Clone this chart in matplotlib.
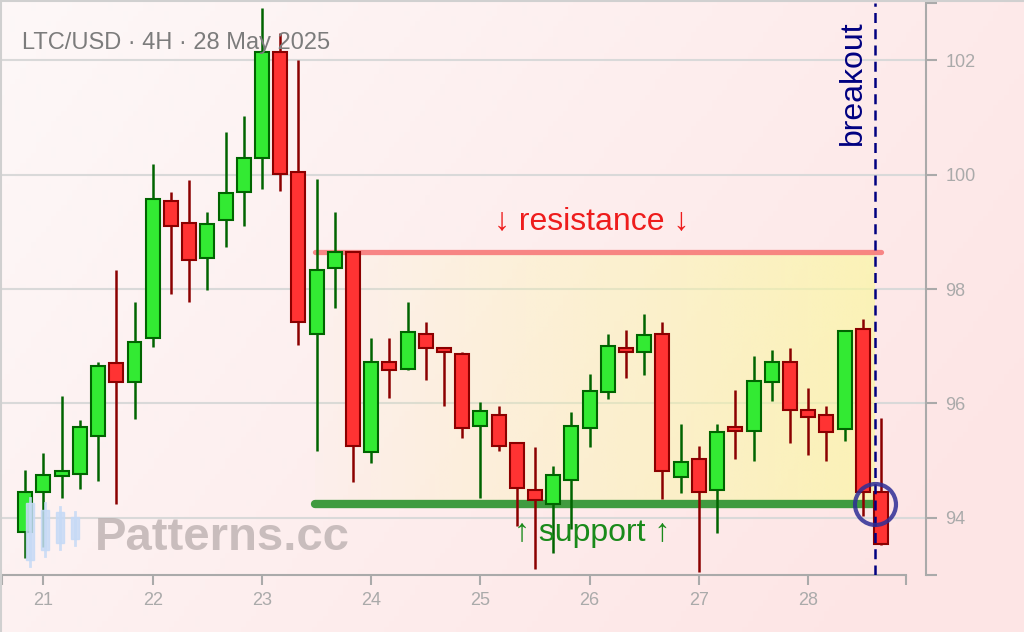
import numpy as np
import pandas as pd
import matplotlib
matplotlib.use("Agg")
import matplotlib.pyplot as plt

plt.rcParams['font.family'] = ['Liberation Sans', 'DejaVu Sans']

# 4H candles, LTC/USD, 20 May 20:00 -> 28 May 16:00
times = pd.date_range('2025-05-20 20:00', periods=48, freq='4h')
opens = [93.75, 94.45, 94.73, 94.76, 95.43, 96.70, 96.37, 97.14, 99.53, 99.15,
         98.54, 99.20, 99.70, 100.29, 102.15, 100.05, 97.21, 98.37, 98.65, 95.15,
         96.73, 96.61, 97.22, 96.97, 96.87, 95.60, 95.79, 95.30, 94.49, 94.25,
         94.66, 95.57, 96.20, 96.97, 96.90, 97.22, 94.72, 95.02, 94.48, 95.58,
         95.51, 96.38, 96.73, 95.89, 95.79, 95.55, 97.30, 94.45]
highs = [94.84, 95.14, 96.13, 95.71, 96.73, 98.33, 97.77, 100.18, 99.70, 99.91,
         99.35, 100.75, 101.03, 102.92, 102.47, 102.00, 99.93, 99.34, 98.66, 97.14,
         97.14, 97.77, 97.42, 96.97, 96.90, 96.03, 95.95, 95.30, 95.23, 94.91,
         95.85, 96.52, 97.22, 97.28, 97.56, 97.42, 95.64, 95.26, 95.64, 96.23,
         96.83, 96.94, 96.97, 96.27, 95.96, 97.28, 97.47, 95.74]
lows = [93.30, 93.49, 94.35, 94.50, 94.64, 94.25, 95.72, 96.98, 97.92, 97.78,
        97.99, 98.73, 99.11, 99.74, 99.71, 97.02, 95.16, 97.67, 94.63, 94.95,
        96.10, 96.58, 96.41, 95.95, 95.40, 94.35, 95.16, 93.86, 93.10, 93.38,
        93.80, 95.23, 96.07, 96.45, 96.49, 94.32, 94.43, 93.06, 93.73, 95.03,
        94.99, 96.04, 95.31, 95.10, 94.99, 95.34, 94.03, 93.52]
closes = [94.45, 94.74, 94.81, 95.58, 96.66, 96.37, 97.08, 99.57, 99.10, 98.51,
          99.14, 99.67, 100.29, 102.15, 100.01, 97.43, 98.34, 98.65, 95.26, 96.73,
          96.58, 97.25, 96.96, 96.89, 95.57, 95.86, 95.25, 94.52, 94.31, 94.74,
          95.61, 96.21, 97.01, 96.90, 97.19, 94.81, 94.98, 94.45, 95.50, 95.51,
          96.39, 96.73, 95.89, 95.76, 95.50, 97.26, 94.45, 93.54]

resistance = 98.65
support = 94.25
zone_start = 23.49
zone_end = 28.67
breakout_x = 28.61
day_ticks = [21, 22, 23, 24, 25, 26, 27, 28]

x = np.array([t.day + t.hour / 24 for t in times])
o = np.array(opens); h = np.array(highs); l = np.array(lows); c = np.array(closes)
up = c >= o

fig = plt.figure(figsize=(10.24, 6.32), dpi=100)

# background gradient
bg = fig.add_axes([0, 0, 1, 1], zorder=-5)
gx, gy = np.meshgrid(np.linspace(0, 1, 200), np.linspace(0, 1, 120))
t = np.clip(0.75 * gx + 0.35 * gy, 0, 1)
top = np.array([253, 248, 248]) / 255
bot = np.array([253, 229, 229]) / 255
img = top[None, None, :] * (1 - t[..., None]) + bot[None, None, :] * t[..., None]
bg.imshow(img, aspect='auto', extent=[0, 1, 1, 0])
bg.axis('off')

ax = fig.add_axes([0, 1 - 575 / 632, 926 / 1024, 572 / 632])
ax.set_facecolor('none')
ax.set_xlim(20.602, 29.079)
ax.set_ylim(93, 103)

# range zone with gradient
zone = np.zeros((2, 200, 4))
zone[..., 0] = 250 / 255
zone[..., 1] = 248 / 255
zone[..., 2] = 160 / 255
zone[..., 3] = np.linspace(0.03, 0.68, 200)[None, :]
ax.imshow(zone, aspect='auto', extent=[zone_start, breakout_x, support, resistance],
          zorder=1, interpolation='bilinear')

ax.plot([zone_start, zone_end], [resistance, resistance], color='#f77a7a', lw=3.8,
        solid_capstyle='round', alpha=0.9, zorder=2)
ax.plot([zone_start, zone_end], [support, support], color='#3f9b3f', lw=6,
        solid_capstyle='round', zorder=2)

# candles
w = 0.128
edge = np.where(up, '#006400', '#8b0000')
face = np.where(up, '#33ea33', '#ff3333')
ax.vlines(x, l, h, colors=edge, lw=1.8, zorder=3)
ax.bar(x, np.abs(c - o), bottom=np.minimum(o, c), width=w, color=face,
       edgecolor=edge, linewidth=1.5, zorder=4)

ax.axvline(breakout_x, color='#000080', lw=1.8, dashes=(4, 2.5), zorder=5)
ax.plot(breakout_x, support, 'o', ms=29.5, mfc='none', mec='#2e2e96', mew=3,
        alpha=0.85, zorder=6)

ax.text(26.02, 99.19, '↓ resistance ↓', color='#ee1c1c', fontsize=23,
        ha='center', va='center', zorder=6)
ax.text(26.02, 93.73, '↑ support ↑', color='#1a8a1a', fontsize=23,
        ha='center', va='center', zorder=6)
ax.text(28.41, 101.6, 'breakout', color='#000080', fontsize=23, rotation=90,
        ha='center', va='center', zorder=6)

# axes styling
for s in ['left', 'top']:
    ax.spines[s].set_visible(False)
for s in ['bottom', 'right']:
    ax.spines[s].set_color('#aaaaaa')
    ax.spines[s].set_linewidth(1.5)
ax.spines['bottom'].set_bounds(20.62, 28.896)
ax.yaxis.tick_right()
ax.set_xticks(day_ticks)
ax.set_xticklabels([str(d) for d in day_ticks])
ax.set_xticks([20.62, 28.896], minor=True)
ax.set_yticks([94, 96, 98, 100, 102])
ax.set_yticks([93, 103], minor=True)
ax.tick_params(axis='x', which='both', length=7.5, width=1.5, color='#aaaaaa',
               labelcolor='#aaaaaa', labelsize=13, pad=5)
ax.tick_params(axis='y', which='both', length=8, width=1.5, color='#aaaaaa',
               labelcolor='#aaaaaa', labelsize=13, pad=6)
ax.grid(axis='y', color='#d9d9d9', lw=1.5)
ax.set_axisbelow(True)

# overlay in pixel coordinates: title, watermark, frame
ov = fig.add_axes([0, 0, 1, 1], zorder=10)
ov.set_xlim(0, 1024)
ov.set_ylim(632, 0)
ov.axis('off')
ov.text(22, 49, 'LTC/USD · 4H · 28 May 2025', color='#7c7c7c', fontsize=17,
        va='baseline', ha='left')
ov.text(95, 550, 'Patterns.cc', color='#b8adad', fontsize=34, fontweight='bold',
        va='baseline', ha='left', alpha=0.75)
icon = [(30, 503, 560, 498, 566), (45, 510, 550, 503, 556),
        (60, 512, 543, 507, 549), (75, 517, 539, 512, 545)]
for ix, b0, b1, w0, w1 in icon:
    ov.plot([ix, ix], [w0, w1], color='#c6daf6', lw=2, alpha=0.85)
    ov.add_patch(plt.Rectangle((ix - 4, b0), 8, b1 - b0, color='#c6daf6', alpha=0.85))
ov.plot([0, 1024], [1, 1], color='#d0d0d0', lw=1.5)
ov.plot([1, 1], [0, 632], color='#d0d0d0', lw=1.5)

fig.savefig('out.png', dpi=100)
